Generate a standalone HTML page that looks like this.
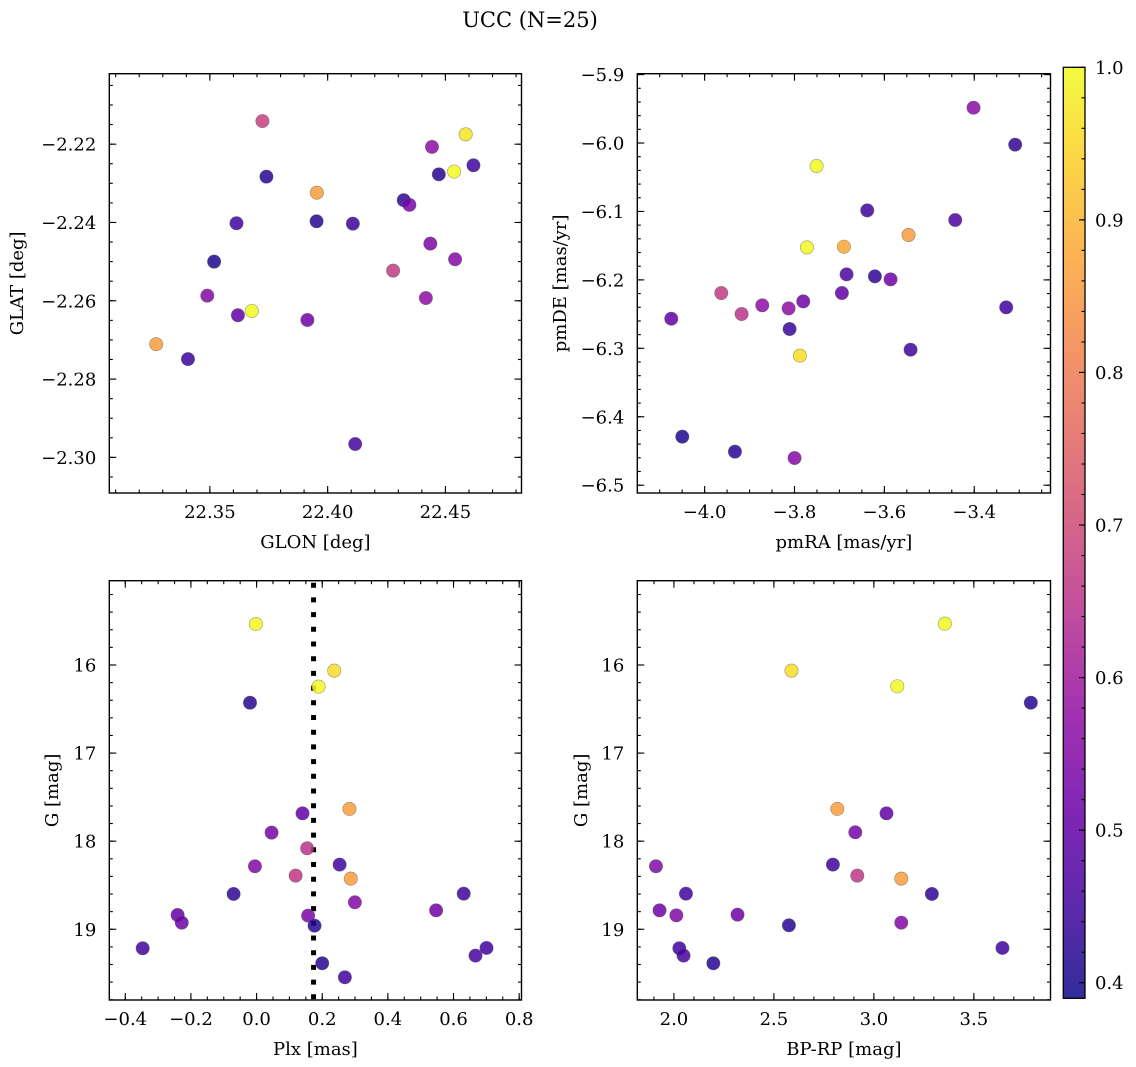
<!DOCTYPE html>
<html><head><meta charset="utf-8">
<style>
html,body{margin:0;padding:0;background:#fff;}
svg{display:block;font-family:"DejaVu Serif","Liberation Serif",serif;}
svg text{font-family:"DejaVu Serif","Liberation Serif",serif;}
</style></head>
<body>
<svg id="fig" width="1136" height="1067" viewBox="0 0 1136 1067" xmlns="http://www.w3.org/2000/svg">
<defs>
<linearGradient id="plasma" x1="0" y1="1" x2="0" y2="0">
<stop offset="0" stop-color="#0d0887"/><stop offset="0.1" stop-color="#41049d"/><stop offset="0.2" stop-color="#6a00a8"/><stop offset="0.3" stop-color="#8f0da4"/><stop offset="0.4" stop-color="#b12a90"/><stop offset="0.5" stop-color="#cc4778"/><stop offset="0.6" stop-color="#e16462"/><stop offset="0.7" stop-color="#f2844b"/><stop offset="0.8" stop-color="#fca636"/><stop offset="0.9" stop-color="#fcce25"/><stop offset="1" stop-color="#f0f921"/>
</linearGradient>
</defs>
<text x="530" y="27" text-anchor="middle" font-size="21">UCC (N=25)</text>
</svg>
<script>
// Panel 1: GLON vs GLAT
const glonValues=[22.3723,22.4586,22.4443,22.4619,22.4537,22.4472,22.3740,22.3954,22.4323,22.4347,22.3613,22.3953,22.4107,22.4436,22.3518,22.4541,22.4278,22.3489,22.4417,22.3678,22.3619,22.3914,22.3272,22.3407,22.4117];
const glatValues=[-2.2141,-2.2175,-2.2207,-2.2254,-2.2270,-2.2277,-2.2283,-2.2324,-2.2343,-2.2355,-2.2402,-2.2397,-2.2403,-2.2454,-2.2500,-2.2494,-2.2523,-2.2587,-2.2593,-2.2626,-2.2637,-2.2649,-2.2711,-2.2749,-2.2966];
const probPanel1=[0.68,0.97,0.57,0.45,1.0,0.42,0.42,0.86,0.43,0.53,0.45,0.42,0.44,0.54,0.41,0.55,0.67,0.55,0.57,1.0,0.5,0.52,0.86,0.44,0.46];
// Panel 2: pmRA vs pmDE
const pmraValues=[-3.4016,-3.3089,-3.7508,-3.6381,-3.4423,-3.5462,-3.7723,-3.69,-3.6841,-3.6211,-3.5862,-3.9629,-3.6945,-3.7805,-3.8717,-3.8131,-3.9177,-3.3289,-4.0742,-3.8109,-3.5417,-3.7879,-4.0497,-3.9325,-3.7998];
const pmdeValues=[-5.9484,-6.0024,-6.0336,-6.0984,-6.1125,-6.1344,-6.1525,-6.1515,-6.1919,-6.1948,-6.1992,-6.2192,-6.2192,-6.2314,-6.2372,-6.2416,-6.2499,-6.2401,-6.2567,-6.2718,-6.3020,-6.3108,-6.4291,-6.4510,-6.4603];
const probPanel2=[0.56,0.43,1.0,0.45,0.47,0.86,1.0,0.88,0.47,0.43,0.52,0.67,0.5,0.52,0.57,0.57,0.65,0.45,0.5,0.44,0.45,0.96,0.41,0.42,0.55];
// Panel 3: Plx vs G
const plxValues=[-0.002,0.2365,0.189,-0.020,0.283,0.140,0.0457,0.154,-0.005,0.253,0.119,0.287,-0.070,0.631,0.2995,0.547,-0.2406,0.157,-0.228,0.1766,-0.347,0.7005,0.667,0.200,0.269];
const gPanel3=[15.535,16.064,16.246,16.428,17.634,17.684,17.903,18.081,18.285,18.266,18.391,18.425,18.599,18.596,18.694,18.785,18.838,18.845,18.925,18.959,19.216,19.212,19.299,19.386,19.545];
const probPanel3=[1.0,0.96,1.0,0.42,0.86,0.5,0.53,0.65,0.55,0.45,0.66,0.86,0.43,0.45,0.55,0.52,0.5,0.54,0.52,0.42,0.45,0.45,0.46,0.42,0.45];
const plxMedian=[0.1736];
// Panel 4: BP-RP vs G
const bprpValues=[3.355,2.588,3.117,3.785,2.817,3.063,2.907,1.91,2.795,2.917,3.137,2.06,3.29,1.928,2.012,2.318,3.137,2.575,2.027,3.643,2.048,2.197];
const gPanel4=[15.531,16.064,16.242,16.428,17.634,17.684,17.899,18.285,18.266,18.391,18.425,18.596,18.599,18.785,18.842,18.834,18.925,18.955,19.216,19.212,19.299,19.386];
const probPanel4=[1.0,0.96,1.0,0.42,0.86,0.5,0.53,0.55,0.45,0.66,0.86,0.45,0.43,0.52,0.55,0.52,0.55,0.42,0.45,0.45,0.46,0.42];
// Colorbar
const cbarTicks=[0.4,0.5,0.6,0.7,0.8,0.9,1.0];

const NS='http://www.w3.org/2000/svg';
const svg=document.getElementById('fig');
const FONT='"DejaVu Serif","Liberation Serif",serif';
const VMIN=0.3898,VMAX=1.0;
const stops=[[13,8,135],[65,4,157],[106,0,168],[143,13,164],[177,42,144],[204,71,120],[225,100,98],[242,132,75],[252,166,54],[252,206,37],[240,249,33]];
function plasma(v){let t=(v-VMIN)/(VMAX-VMIN);t=Math.max(0,Math.min(1,t));const f=t*10;const i=Math.min(9,Math.floor(f));const r=f-i;const a=stops[i],b=stops[i+1];return 'rgb('+a.map((c,k)=>Math.round(c+(b[k]-c)*r)).join(',')+')';}
function mk(tag,attrs,parent){const e=document.createElementNS(NS,tag);for(const k in attrs)e.setAttribute(k,attrs[k]);if(tag==='text')e.setAttribute('font-family',FONT);(parent||svg).appendChild(e);return e;}
function fmt(v,d){const s=Math.abs(v).toFixed(d);return (v<-1e-9?'\u2212':'')+s;}
function range(a,b,step){const out=[];const s=Math.ceil(a/step-1e-6);const e=Math.floor(b/step+1e-6);for(let i=s;i<=e;i++)out.push(+(i*step).toFixed(6));return out;}

function panel(cfg){
  const {name,L,R,T,B,xmin,xmax,ymin,ymax,yinv,xmaj,xmin_,ymaj,ymin_,xd,yd,xlabel,ylabel,ylabelX,xs,ys,cs}=cfg;
  const g=mk('g',{});
  
  
  const sx=v=>L+(v-xmin)/(xmax-xmin)*(R-L);
  const sy=yinv?(v=>T+(v-ymin)/(ymax-ymin)*(B-T)):(v=>B-(v-ymin)/(ymax-ymin)*(B-T));
  const tg=mk('g',{stroke:'#000','stroke-width':'1.1'},g);
  
  
  range(xmin,xmax,xmin_).forEach(v=>{const x=sx(v);mk('line',{x1:x,x2:x,y1:B,y2:B-3.5},tg);mk('line',{x1:x,x2:x,y1:T,y2:T+3.5},tg);});
  range(ymin,ymax,ymin_).forEach(v=>{const y=sy(v);mk('line',{x1:L,x2:L+3.5,y1:y,y2:y},tg);mk('line',{x1:R,x2:R-3.5,y1:y,y2:y},tg);});
  range(xmin,xmax,xmaj).forEach(v=>{const x=sx(v);mk('line',{x1:x,x2:x,y1:B,y2:B-7},tg);mk('line',{x1:x,x2:x,y1:T,y2:T+7},tg);
    const t=mk('text',{x:x,y:B+25,'text-anchor':'middle','font-size':'18',fill:'#000'},g);t.textContent=fmt(v,xd);
    
    });
  range(ymin,ymax,ymaj).forEach(v=>{const y=sy(v);mk('line',{x1:L,x2:L+7,y1:y,y2:y},tg);mk('line',{x1:R,x2:R-7,y1:y,y2:y},tg);
    const t=mk('text',{x:L-13,y:y+6.5,'text-anchor':'end','font-size':'18',fill:'#000'},g);t.textContent=fmt(v,yd);
    
    });
  if(cfg.vline!==undefined){const x=sx(cfg.vline);const l=mk('line',{x1:x,x2:x,y1:T+2,y2:B,stroke:'#000','stroke-width':'5','stroke-dasharray':'5 9.7'},g);
    
    }
  for(let i=0;i<xs.length;i++){
    const c=mk('circle',{cx:sx(xs[i]),cy:sy(ys[i]),r:6.7,fill:plasma(cs[i]),'fill-opacity':'0.85',stroke:'rgba(90,90,90,0.6)','stroke-width':'0.6'},g);
    
    
  }
  const fr=mk('rect',{x:L,y:T,width:R-L,height:B-T,fill:'none',stroke:'#000','stroke-width':'1.4'},g);
  
  
  const xl=mk('text',{x:(L+R)/2,y:B+55,'text-anchor':'middle','font-size':'18'},g);xl.textContent=xlabel;
  
  
  const yl=mk('text',{x:0,y:0,'text-anchor':'middle','font-size':'18',transform:'translate('+ylabelX+','+((T+B)/2)+') rotate(-90)'},g);yl.textContent=ylabel;
  
  
}

panel({name:'glon-glat-panel',L:109.3,R:521.5,T:73.7,B:493,xmin:22.3073,xmax:22.4823,ymin:-2.3091,ymax:-2.2020,yinv:false,xmaj:0.05,xmin_:0.01,ymaj:0.02,ymin_:0.005,xd:2,yd:2,xlabel:'GLON [deg]',ylabel:'GLAT [deg]',ylabelX:23,xs:glonValues,ys:glatValues,cs:probPanel1});
panel({name:'pm-panel',L:637.3,R:1050.5,T:73.7,B:493,xmin:-4.1498,xmax:-3.2303,ymin:-6.5114,ymax:-5.8987,yinv:false,xmaj:0.2,xmin_:0.05,ymaj:0.1,ymin_:0.02,xd:1,yd:1,xlabel:'pmRA [mas/yr]',ylabel:'pmDE [mas/yr]',ylabelX:566,xs:pmraValues,ys:pmdeValues,cs:probPanel2});
panel({name:'plx-g-panel',L:109.3,R:521.5,T:580.7,B:1000,xmin:-0.4487,xmax:0.8071,ymin:15.043,ymax:19.803,yinv:true,xmaj:0.2,xmin_:0.05,ymaj:1,ymin_:0.2,xd:1,yd:0,xlabel:'Plx [mas]',ylabel:'G [mag]',ylabelX:58,xs:plxValues,ys:gPanel3,cs:probPanel3,vline:plxMedian[0]});
panel({name:'cmd-panel',L:637.3,R:1050.5,T:580.7,B:1000,xmin:1.8167,xmax:3.8833,ymin:15.043,ymax:19.803,yinv:true,xmaj:0.5,xmin_:0.1,ymaj:1,ymin_:0.2,xd:1,yd:0,xlabel:'BP-RP [mag]',ylabel:'G [mag]',ylabelX:587,xs:bprpValues,ys:gPanel4,cs:probPanel4});

(function(){
  const L=1063.3,R=1085,T=67.3,B=998.3;
  const g=mk('g',{});
  
  
  mk('rect',{x:L,y:T,width:R-L,height:B-T,fill:'url(#plasma)','fill-opacity':'0.85'},g);
  const cy=v=>B-(v-VMIN)/(VMAX-VMIN)*(B-T);
  range(VMIN,VMAX,0.02).forEach(v=>{const y=cy(v);mk('line',{x1:R,x2:R-3.5,y1:y,y2:y,stroke:'#000','stroke-width':'1.1'},g);});
  cbarTicks.forEach(v=>{const y=cy(v);mk('line',{x1:R,x2:R-6,y1:y,y2:y,stroke:'#000','stroke-width':'1.1'},g);
    const t=mk('text',{x:R+10,y:y+6.5,'font-size':'18'},g);t.textContent=v.toFixed(1);
    
    });
  mk('rect',{x:L,y:T,width:R-L,height:B-T,fill:'none',stroke:'#000','stroke-width':'1.3'},g);
})();
</script>
</body></html>
